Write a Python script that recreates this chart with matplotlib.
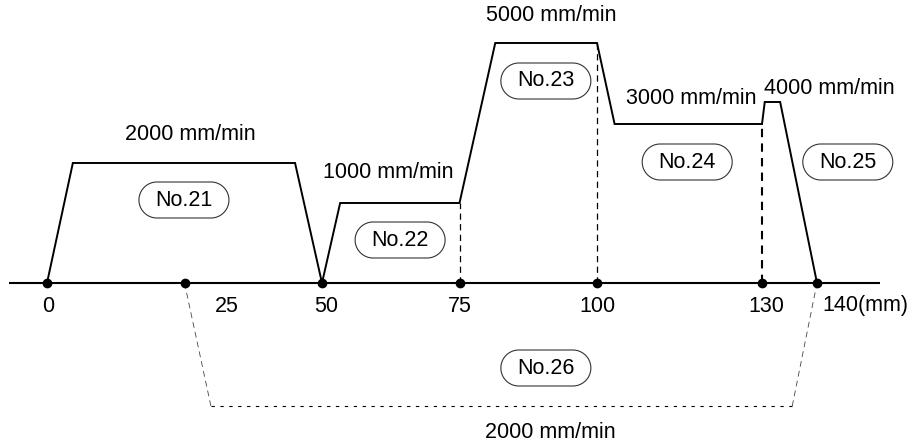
import matplotlib.pyplot as plt
import matplotlib.transforms as mtransforms
import numpy as np
from matplotlib.patches import Polygon

plt.rcParams['font.family'] = ['Liberation Sans', 'DejaVu Sans']

# positioning profile (x in mm, height is schematic)
profile_x = [0, 4.7, 45.1, 50, 53.3, 75, 81.5, 100, 103.2, 130, 130.5, 133.3, 140]
profile_h = [0, 120, 120, 0, 80, 80, 240, 240, 159, 159, 181, 181, 0]

# No.26 runs underneath the axis
path26_x = [25, 29.8, 135.5, 140]
path26_h = [0, -123, -123, 0]

points_mm = [0, 25, 50, 75, 100, 130, 140]
tick_text = ['0', '25', '50', '75', '100', '130', '140(mm)']

change_x = [75, 100, 130]
change_h = [80, 240, 159]

speed_text = ['2000 mm/min', '1000 mm/min', '5000 mm/min',
              '3000 mm/min', '4000 mm/min', '2000 mm/min']
point_names = ['No.21', 'No.22', 'No.23', 'No.24', 'No.25', 'No.26']

# layout (label anchors)
tick_dx = [0.2, 7.7, 0.7, 0, 0, 0.7, 0.9]
speed_pos = [(26, 149), (62, 110), (91.6, 267), (117.1, 185), (142.2, 194), (91.6, -149)]
box_pos = [(24.9, 83), (64.2, 43), (90.7, 202), (116.4, 121), (145.6, 121), (90.7, -85)]

PX = 5.5  # pixels per mm
fig = plt.figure(figsize=(9.09, 4.44), dpi=100)
ax = fig.add_axes([0, 0, 1, 1])
ax.set_xlim(-47 / PX, (909 - 47) / PX)
ax.set_ylim(-161, 283)
ax.axis('off')

ax.plot([-6.9, 151.5], [0, 0], color='black', lw=1.5, solid_capstyle='butt')
ax.plot(profile_x, profile_h, color='black', lw=1.4, solid_joinstyle='miter')
for x, h in zip(change_x, change_h):
    ax.plot([x, x], [0, h], color='black', lw=1.5 if x == 130 else 0.9,
            dashes=(4, 3) if x == 130 else (5, 3.5))
ax.plot(path26_x[:2], path26_h[:2], color='#444444', lw=0.6, dashes=(7, 5))
ax.plot(path26_x[1:3], path26_h[1:3], color='black', lw=0.8, dashes=(3, 5))
ax.plot(path26_x[2:], path26_h[2:], color='#444444', lw=0.6, dashes=(7, 5))
ax.plot(points_mm, [0] * len(points_mm), 'o', color='black', ms=6, zorder=5)

for x, dx, t in zip(points_mm, tick_dx, tick_text):
    ha = 'left' if t.endswith('(mm)') else 'center'
    ax.text(x + dx, -23, t, fontsize=15.5, ha=ha, va='center')

for (x, y), t in zip(speed_pos, speed_text):
    ax.text(x, y, t, fontsize=15.5, ha='center', va='center')

# pill shaped labels, outline built in pixel units around the anchor
bw, bh = 90, 36
r = bh / 2
a_right = np.linspace(-np.pi / 2, np.pi / 2, 40)
a_left = np.linspace(np.pi / 2, 3 * np.pi / 2, 40)
pill = np.vstack([
    np.column_stack([bw / 2 - r + r * np.cos(a_right), r * np.sin(a_right)]),
    np.column_stack([-bw / 2 + r + r * np.cos(a_left), r * np.sin(a_left)]),
])
for (x, y), t in zip(box_pos, point_names):
    trans = mtransforms.ScaledTranslation(x, y, ax.transData)
    ax.add_patch(Polygon(pill, closed=True, transform=trans,
                         fc='white', ec='#333333', lw=0.8))
    ax.text(x, y, t, fontsize=15.5, ha='center', va='center')

fig.savefig('out.png', dpi=100)
